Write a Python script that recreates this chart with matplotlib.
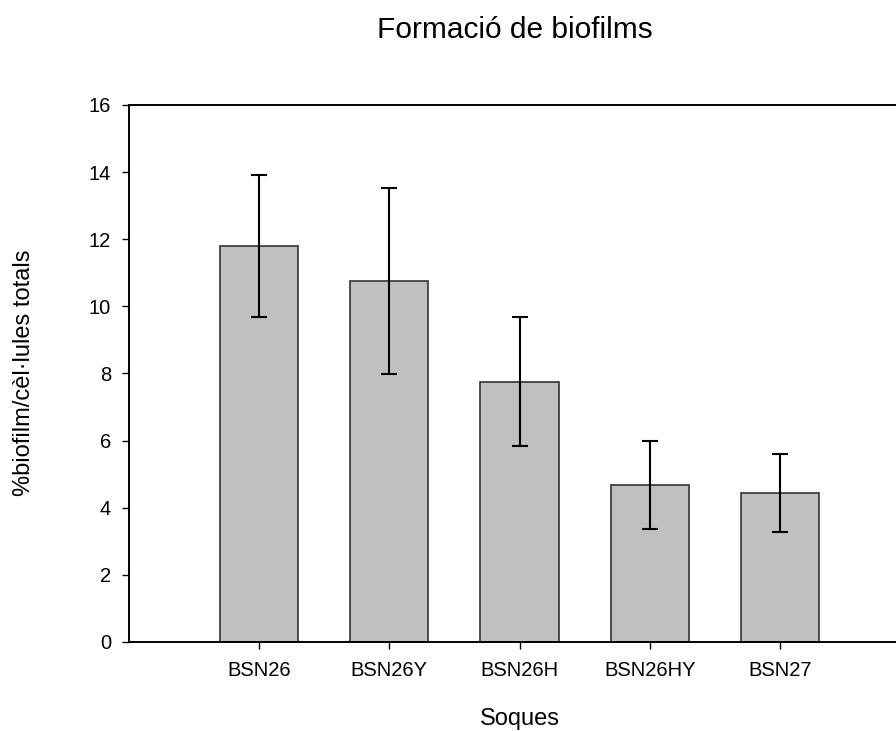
import matplotlib
matplotlib.use("Agg")
import matplotlib.pyplot as plt
import numpy as np

# === Data ===
strains = ["BSN26", "BSN26Y", "BSN26H", "BSN26HY", "BSN27"]
biofilm_pct = [11.80, 10.75, 7.76, 4.68, 4.44]
biofilm_err = [2.12, 2.78, 1.92, 1.31, 1.15]
y_ticks = [0, 2, 4, 6, 8, 10, 12, 14, 16]

plt.rcParams["font.family"] = ["Liberation Sans", "DejaVu Sans"]

fig = plt.figure(figsize=(8.96, 7.31), dpi=100)
# the frame runs past the right edge of the figure, as in the original
ax = fig.add_axes([0.144, 0.1218, 0.8716, 0.7346])

x = np.arange(len(strains))
ax.bar(x, biofilm_pct, width=0.6, color="#c0c0c0", edgecolor="#333333",
       linewidth=1.2, zorder=2)
ax.errorbar(x, biofilm_pct, yerr=biofilm_err, fmt="none", ecolor="black",
            elinewidth=1.5, capsize=6, capthick=1.5, zorder=3)

ax.set_xlim(-1, 5)
ax.set_ylim(0, 16)
ax.set_yticks(y_ticks)
ax.set_xticks(x)
ax.set_xticklabels(strains)
ax.tick_params(axis="both", labelsize=14.5, direction="out", width=1, length=5)
ax.tick_params(axis="y", pad=8)
ax.tick_params(axis="x", pad=9)

ax.spines["right"].set_visible(False)
for side in ["left", "bottom", "top"]:
    ax.spines[side].set_linewidth(1.4)

# axis titles and chart title placed in figure coords
fig.text(519.5 / 896, 1 - 725 / 731, "Soques", ha="center", va="baseline",
         fontsize=17)
fig.text(24 / 896, 1 - 373 / 731, "%biofilm/cèl·lules totals", ha="center",
         va="center", rotation=90, fontsize=17)
fig.text(515 / 896, 1 - 38 / 731, "Formació de biofilms", ha="center",
         va="baseline", fontsize=21.5)

fig.savefig("out.png", dpi=100)
